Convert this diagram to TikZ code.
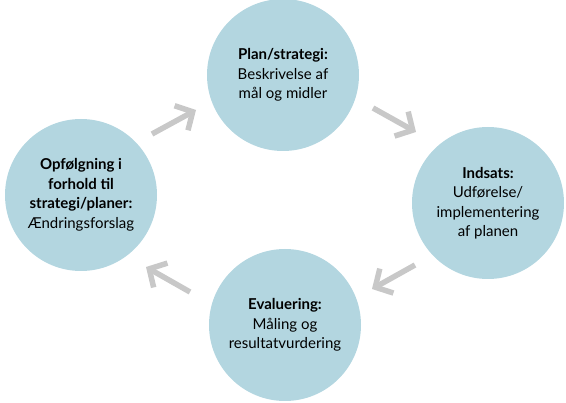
\documentclass[tikz,border=0pt]{standalone}
\usepackage{fontspec}
\setmainfont{Lato}
\usetikzlibrary{arrows.meta}
\definecolor{circ}{HTML}{B3D6E0}
\definecolor{arr}{HTML}{C8C8C8}
\begin{document}
\begin{tikzpicture}[x=1pt,y=-1pt,
  stage/.style={circle,fill=circ,minimum size=152pt,inner sep=0pt,align=center,font=\fontsize{15}{19.5}\selectfont},
  flow/.style={draw=arr,line width=5.5pt,-{Straight Barb[length=13pt,width=28pt]}}]
\useasboundingbox (0,0) rectangle (566,403);
\node[stage] (plan) at (283,75) {\textbf{Plan/strategi:}\\Beskrivelse af\\mål og midler};
\node[stage] (ind) at (488,203) {\textbf{Indsats:}\\Udførelse/\\implementering\\af planen};
\node[stage] (eval) at (285,325) {\textbf{Evaluering:}\\Måling og\\resultatvurdering};
\node[stage] (opf) at (81,195) {\textbf{Opfølgning i}\\\textbf{forhold til}\\\textbf{strategi/planer:}\\Ændringsforslag};
\coordinate (a1s) at (152,134); \coordinate (a1e) at (196,110);
\coordinate (a2s) at (373,108); \coordinate (a2e) at (416,132);
\coordinate (a3s) at (415,265); \coordinate (a3e) at (372,289);
\coordinate (a4s) at (190,292); \coordinate (a4e) at (146,267);
\draw[flow] (a1s) -- (a1e);
\draw[flow] (a2s) -- (a2e);
\draw[flow] (a3s) -- (a3e);
\draw[flow] (a4s) -- (a4e);
\end{tikzpicture}
\end{document}
